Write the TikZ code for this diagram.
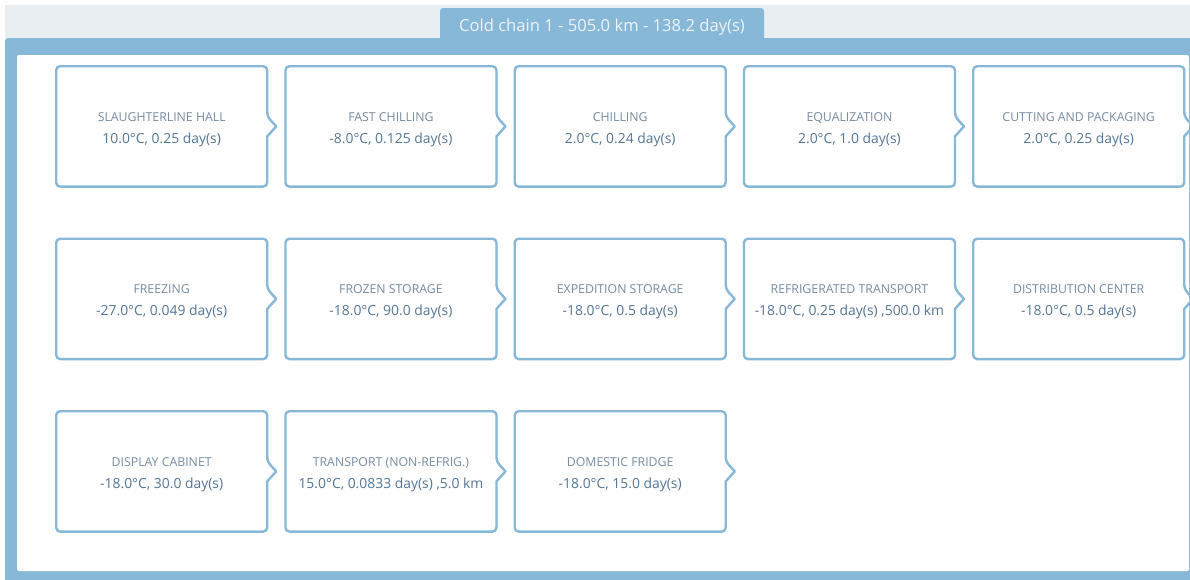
\documentclass[tikz,border=0pt]{standalone}
\usepackage{fontspec}
\setmainfont{Open Sans}
\usetikzlibrary{matrix,positioning}

\definecolor{framecol}{RGB}{135,184,216}
\definecolor{stripcol}{RGB}{233,238,242}
\definecolor{titlecol}{RGB}{118,140,160}
\definecolor{valcol}{RGB}{84,118,150}
\definecolor{tabtext}{RGB}{238,243,247}

% two-line text of one stage: name, then conditions
\newcommand{\stagetext}[2]{%
\begin{tabular}[t]{@{}c@{}}
{\fontsize{12.3}{14}\selectfont\color{titlecol}#1}\\[5pt]
{\color{valcol}#2}
\end{tabular}}

\begin{document}
\begin{tikzpicture}[
    x=1pt, y=-1pt,
    % define styles
    stage/.style={
        draw=none,
        inner sep=0pt,
        minimum width=210.6pt,
        minimum height=120pt,
        text height=0pt,
        text depth=10.6pt,
        font=\fontsize{13.9}{17}\selectfont
    },
    stageline/.style={
        draw=framecol,
        line width=2.4pt,
        line join=round
    },
    chain/.style={
        matrix of nodes,
        nodes={stage},
        column sep=18.65pt,
        row sep=52.5pt,
        inner sep=0pt
    }
]
\useasboundingbox (0,0) rectangle (1190,579);

% grey strip, blue frame and white panel
\fill[stripcol] (5,5) rectangle (1190,38);
\fill[framecol, rounded corners=3pt] (5,38) rectangle (1200,590);
\fill[white, rounded corners=2pt] (17,55) rectangle (1189,571);

% tab with the chain summary
\fill[framecol, rounded corners=3pt] (440,42) -- (440,8) -- (764,8) -- (764,42) -- cycle;
\node[text=tabtext, font=\fontsize{16.6}{19}\selectfont] (tab) at (602,27.5)
    {Cold chain 1 - 505.0 km - 138.2 day(s)};

% define matrix mat to hold the stages
\matrix[chain, anchor=north west] (mat) at (56.2,66.2)
{
\stagetext{SLAUGHTERLINE HALL}{10.0°C, 0.25 day(s)}
& \stagetext{FAST CHILLING}{-8.0°C, 0.125 day(s)}
& \stagetext{CHILLING}{2.0°C, 0.24 day(s)}
& \stagetext{EQUALIZATION}{2.0°C, 1.0 day(s)}
& \stagetext{CUTTING AND PACKAGING}{2.0°C, 0.25 day(s)} \\
\stagetext{FREEZING}{-27.0°C, 0.049 day(s)}
& \stagetext{FROZEN STORAGE}{-18.0°C, 90.0 day(s)}
& \stagetext{EXPEDITION STORAGE}{-18.0°C, 0.5 day(s)}
& \stagetext{REFRIGERATED TRANSPORT}{-18.0°C, 0.25 day(s) ,500.0 km}
& \stagetext{DISTRIBUTION CENTER}{-18.0°C, 0.5 day(s)} \\
\stagetext{DISPLAY CABINET}{-18.0°C, 30.0 day(s)}
& \stagetext{TRANSPORT (NON-REFRIG.)}{15.0°C, 0.0833 day(s) ,5.0 km}
& \stagetext{DOMESTIC FRIDGE}{-18.0°C, 15.0 day(s)} \\
};

% outline of each stage, with the pointer on its right side
\foreach \r/\c in {1/1,1/2,1/3,1/4,1/5,2/1,2/2,2/3,2/4,2/5,3/1,3/2,3/3}
    \draw[stageline, rounded corners=4pt] (mat-\r-\c.west) |- (mat-\r-\c.north east)
        -- ([yshift=10pt]mat-\r-\c.east) [sharp corners] -- ([xshift=9pt]mat-\r-\c.east)
        -- ([yshift=-10pt]mat-\r-\c.east) [rounded corners=4pt] |- (mat-\r-\c.south west)
        -- cycle;
\end{tikzpicture}
\end{document}
